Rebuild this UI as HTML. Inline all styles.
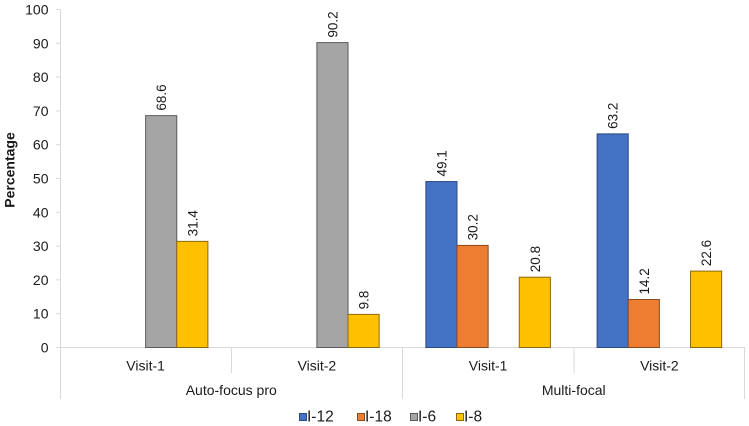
<!DOCTYPE html>
<html>
<head>
<meta charset="utf-8">
<style>
  html,body{margin:0;padding:0;background:#fff;}
  svg{display:block;}
  text{font-family:"Liberation Sans",Arial,sans-serif;fill:#1a1a1a;}
</style>
</head>
<body>
<svg width="749" height="426" viewBox="0 0 749 426" xmlns="http://www.w3.org/2000/svg">
  <rect width="749" height="426" fill="#fff"/>
  <!-- axes -->
  <g stroke="#d9d9d9" stroke-width="1" fill="none">
    <line x1="60.5" y1="9.5" x2="60.5" y2="399"/>
    <line x1="60" y1="347.5" x2="745" y2="347.5"/>
    <line x1="231.5" y1="347.5" x2="231.5" y2="373"/>
    <line x1="574" y1="347.5" x2="574" y2="373"/>
    <line x1="402.5" y1="347.5" x2="402.5" y2="399"/>
    <line x1="744.5" y1="347.5" x2="744.5" y2="399"/>
    <line x1="56" y1="347.5" x2="60" y2="347.5"/>
    <line x1="56" y1="313.7" x2="60" y2="313.7"/>
    <line x1="56" y1="279.9" x2="60" y2="279.9"/>
    <line x1="56" y1="246.1" x2="60" y2="246.1"/>
    <line x1="56" y1="212.3" x2="60" y2="212.3"/>
    <line x1="56" y1="178.5" x2="60" y2="178.5"/>
    <line x1="56" y1="144.7" x2="60" y2="144.7"/>
    <line x1="56" y1="110.9" x2="60" y2="110.9"/>
    <line x1="56" y1="77.1" x2="60" y2="77.1"/>
    <line x1="56" y1="43.3" x2="60" y2="43.3"/>
    <line x1="56" y1="9.5" x2="60" y2="9.5"/>
  </g>
  <!-- y tick labels -->
  <g font-size="14" text-anchor="end">
    <text x="48.5" y="352.5">0</text>
    <text x="48.5" y="318.7">10</text>
    <text x="48.5" y="284.9">20</text>
    <text x="48.5" y="251.1">30</text>
    <text x="48.5" y="217.3">40</text>
    <text x="48.5" y="183.5">50</text>
    <text x="48.5" y="149.7">60</text>
    <text x="48.5" y="115.9">70</text>
    <text x="48.5" y="82.1">80</text>
    <text x="48.5" y="48.3">90</text>
    <text x="48.5" y="14.5">100</text>
  </g>
  <text x="0" y="0" font-size="14" font-weight="bold" text-anchor="middle" transform="translate(14.5,170) rotate(-90)">Percentage</text>

  <!-- bars -->
  <g stroke-width="1">
    <rect x="145.63" y="115.63" width="31.14" height="231.87" fill="#A5A5A5" stroke="#5a5a5a"/>
    <rect x="176.77" y="241.37" width="31.14" height="106.13" fill="#FFC000" stroke="#8a6a10"/>
    <rect x="316.88" y="42.62" width="31.14" height="304.88" fill="#A5A5A5" stroke="#5a5a5a"/>
    <rect x="348.02" y="314.38" width="31.14" height="33.12" fill="#FFC000" stroke="#8a6a10"/>
    <rect x="425.85" y="181.54" width="31.14" height="165.96" fill="#4472C4" stroke="#2c4a80"/>
    <rect x="456.99" y="245.42" width="31.14" height="102.08" fill="#ED7D31" stroke="#8a4a20"/>
    <rect x="519.27" y="277.2" width="31.14" height="70.3" fill="#FFC000" stroke="#8a6a10"/>
    <rect x="597.1" y="133.88" width="31.14" height="213.62" fill="#4472C4" stroke="#2c4a80"/>
    <rect x="628.24" y="299.5" width="31.14" height="48" fill="#ED7D31" stroke="#8a4a20"/>
    <rect x="690.52" y="271.11" width="31.14" height="76.39" fill="#FFC000" stroke="#8a6a10"/>
  </g>

  <!-- data labels -->
  <g font-size="13.5">
    <text transform="translate(166.2,110.6) rotate(-90)">68.6</text>
    <text transform="translate(197.3,236.4) rotate(-90)">31.4</text>
    <text transform="translate(337.5,37.6) rotate(-90)">90.2</text>
    <text transform="translate(368.6,309.4) rotate(-90)">9.8</text>
    <text transform="translate(446.4,176.5) rotate(-90)">49.1</text>
    <text transform="translate(477.6,240.4) rotate(-90)">30.2</text>
    <text transform="translate(539.8,272.2) rotate(-90)">20.8</text>
    <text transform="translate(617.7,128.9) rotate(-90)">63.2</text>
    <text transform="translate(648.8,294.5) rotate(-90)">14.2</text>
    <text transform="translate(711.1,266.1) rotate(-90)">22.6</text>
  </g>

  <!-- category labels -->
  <g font-size="14" text-anchor="middle">
    <text x="145.6" y="370.5">Visit-1</text>
    <text x="316.9" y="370.5">Visit-2</text>
    <text x="488.1" y="370.5">Visit-1</text>
    <text x="659.4" y="370.5">Visit-2</text>
    <text x="231.25" y="395">Auto-focus pro</text>
    <text x="573.75" y="395">Multi-focal</text>
  </g>

  <!-- legend -->
  <g stroke-width="1">
    <rect x="299.5" y="413.5" width="7" height="7" fill="#4472C4" stroke="#2c4a80"/>
    <rect x="357.5" y="413.5" width="7" height="7" fill="#ED7D31" stroke="#8a4a20"/>
    <rect x="410.5" y="413.5" width="7" height="7" fill="#A5A5A5" stroke="#5a5a5a"/>
    <rect x="456.5" y="413.5" width="7" height="7" fill="#FFC000" stroke="#8a6a10"/>
  </g>
  <g font-size="15.5">
    <text x="307" y="421.5">I-12</text>
    <text x="365" y="421.5">I-18</text>
    <text x="418" y="421.5">I-6</text>
    <text x="464" y="421.5">I-8</text>
  </g>
</svg>
</body>
</html>
